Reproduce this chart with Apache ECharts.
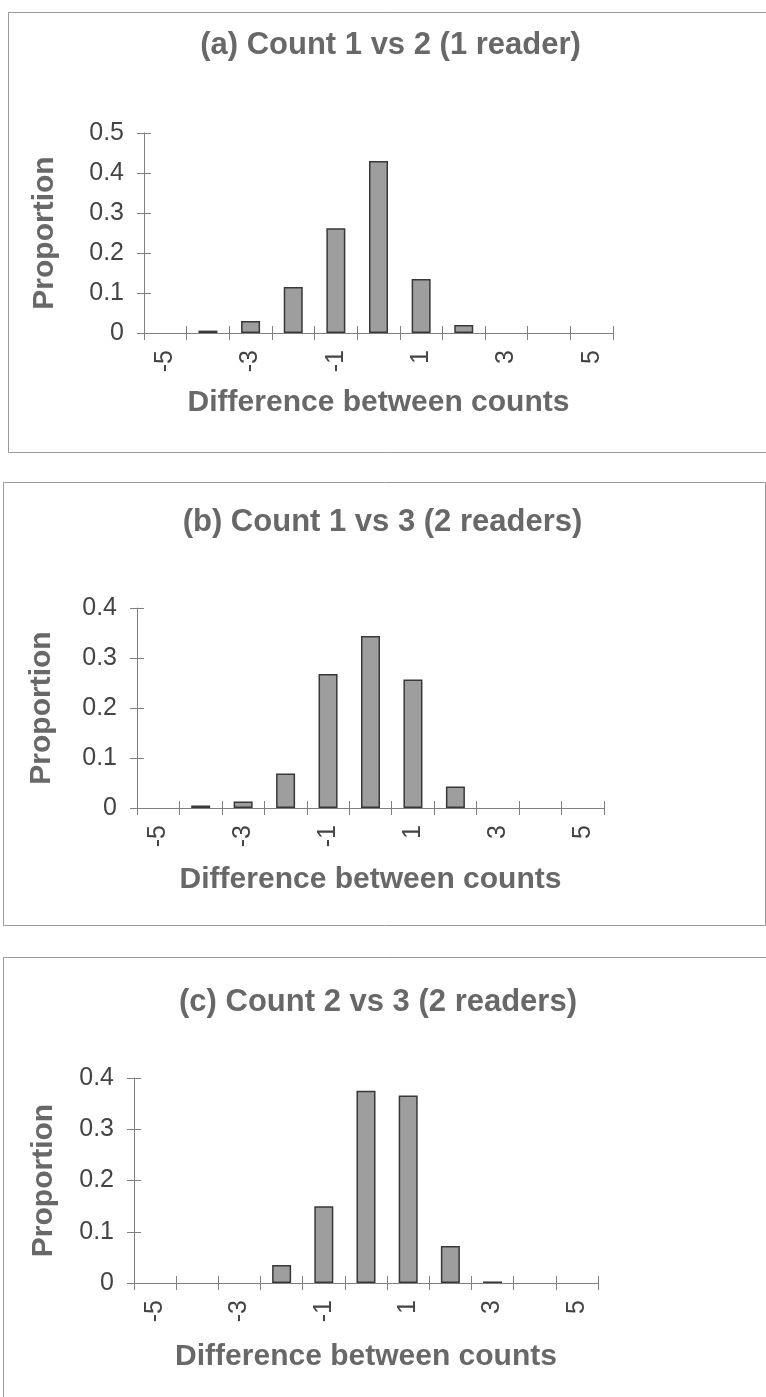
<!DOCTYPE html>
<html>
<head>
<meta charset="utf-8">
<script src="https://cdn.jsdelivr.net/npm/echarts@6/dist/echarts.min.js"></script>
<style>
  html, body { margin: 0; padding: 0; background: #fff; }
  #chart { width: 766px; height: 1397px; }
</style>
</head>
<body>
<div id="chart"></div>
<script>
// ---- data ----
const categories = ['-5', '-4', '-3', '-2', '-1', '0', '1', '2', '3', '4', '5'];
const valuesA = [0, 0.006, 0.030, 0.115, 0.262, 0.430, 0.135, 0.020, 0, 0, 0];
const valuesB = [0, 0.005, 0.013, 0.069, 0.268, 0.344, 0.257, 0.043, 0, 0, 0];
const valuesC = [0, 0, 0, 0.035, 0.150, 0.375, 0.366, 0.072, 0.003, 0, 0];
const titles = ['(a) Count 1 vs 2 (1 reader)', '(b) Count 1 vs 3 (2 readers)', '(c) Count 2 vs 3 (2 readers)'];
const yMaxes = [0.5, 0.4, 0.4];
const xName = 'Difference between counts';
const yName = 'Proportion';

// ---- layout ----
const panels = [
  { grid: { left: 144, top: 133, width: 469, height: 200 }, titleY: 30, yGap: 84, xGap: 55, box: [8, 12, 800, 440] },
  { grid: { left: 137, top: 608, width: 467, height: 200 }, titleY: 507, yGap: 80, xGap: 57, box: [3, 482, 762, 443] },
  { grid: { left: 134, top: 1078, width: 464, height: 205 }, titleY: 987, yGap: 75, xGap: 59, box: [3, 957, 800, 500] }
];
const allValues = [valuesA, valuesB, valuesC];

const FONT = '"Liberation Sans", Arial, sans-serif';
const axisGray = '#808080';
const labelColor = '#444444';
const nameColor = '#686868';

const option = {
  backgroundColor: '#ffffff',
  animation: false,
  title: [], grid: [], xAxis: [], yAxis: [], series: [], graphic: []
};

panels.forEach((p, i) => {
  const g = p.grid;
  option.title.push({
    text: titles[i],
    left: g.left + g.width / 2 + 12,
    top: p.titleY,
    textAlign: 'center',
    padding: 0,
    textStyle: { fontFamily: FONT, fontSize: 31, fontWeight: 'bold', color: nameColor }
  });
  option.grid.push(Object.assign({ containLabel: false }, g));
  // main x axis
  option.xAxis.push({
    type: 'category', gridIndex: i, data: categories, position: 'bottom',
    boundaryGap: true,
    name: xName, nameLocation: 'middle', nameGap: p.xGap,
    nameTextStyle: { fontFamily: FONT, fontSize: 30, fontWeight: 'bold', color: nameColor },
    axisLine: { show: true, lineStyle: { color: axisGray, width: 1 } },
    axisTick: { show: true, interval: 0, alignWithLabel: false, length: 7, lineStyle: { color: axisGray } },
    axisLabel: { interval: 1, rotate: 90, margin: 17, fontFamily: FONT, fontSize: 25, color: labelColor },
    splitLine: { show: false }
  });
  // inner ticks (crossing tick marks)
  option.xAxis.push({
    type: 'category', gridIndex: i, data: categories, position: 'bottom',
    boundaryGap: true,
    axisLine: { show: false },
    axisTick: { show: true, inside: true, interval: 0, alignWithLabel: false, length: 7, lineStyle: { color: axisGray } },
    axisLabel: { show: false },
    splitLine: { show: false }
  });
  option.yAxis.push({
    type: 'value', gridIndex: i, min: 0, max: yMaxes[i], interval: 0.1, position: 'left',
    name: yName, nameLocation: 'middle', nameGap: p.yGap, nameRotate: 90,
    nameTextStyle: { fontFamily: FONT, fontSize: 30, fontWeight: 'bold', color: nameColor },
    axisLine: { show: true, lineStyle: { color: axisGray, width: 1 } },
    axisTick: { show: true, length: 7, lineStyle: { color: axisGray } },
    axisLabel: { margin: 20, fontFamily: FONT, fontSize: 25, color: labelColor },
    splitLine: { show: false }
  });
  option.yAxis.push({
    type: 'value', gridIndex: i, min: 0, max: yMaxes[i], interval: 0.1, position: 'left',
    axisLine: { show: false },
    axisTick: { show: true, inside: true, length: 7, lineStyle: { color: axisGray } },
    axisLabel: { show: false },
    splitLine: { show: false }
  });
  option.series.push({
    type: 'bar',
    xAxisIndex: i * 2, yAxisIndex: i * 2,
    data: allValues[i].map(v => (v === 0 ? '-' : v)),
    barWidth: 19,
    itemStyle: { color: '#9e9e9e', borderColor: '#383838', borderWidth: 1.5 }
  });
  option.graphic.push({
    type: 'rect', silent: true, z: -1,
    shape: { x: p.box[0] + 0.5, y: p.box[1] + 0.5, width: p.box[2], height: p.box[3] },
    style: { fill: 'none', stroke: '#9a9a9a', lineWidth: 1 }
  });
});

const chart = echarts.init(document.getElementById('chart'), null, { renderer: 'canvas' });
chart.setOption(option);
</script>
</body>
</html>
